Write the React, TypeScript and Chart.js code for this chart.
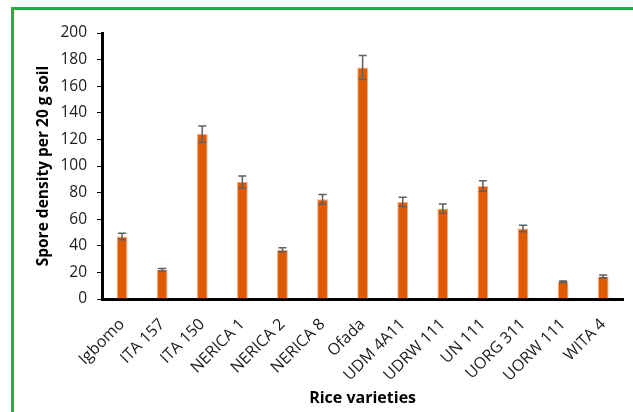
import React, { useEffect, useRef } from "react";
import { Chart, registerables } from "chart.js";

Chart.register(...registerables);

const categories = [
  "Igbomo", "ITA 157", "ITA 150", "NERICA 1", "NERICA 2", "NERICA 8", "Ofada",
  "UDM 4A11", "UDRW 111", "UN 111", "UORG 311", "UORW 111", "WITA 4",
];
const sporeDensity = [47, 22, 124, 88, 37, 75, 174, 73, 68, 85, 53, 13, 17];
const errorValues = [2.5, 1, 6, 4.5, 1.5, 3.5, 9, 3.5, 3.5, 4, 2.5, 0.5, 1];
const yTicks = [0, 20, 40, 60, 80, 100, 120, 140, 160, 180, 200];

const FONT = "'Open Sans', 'Noto Sans', sans-serif";

const errorBarPlugin = {
  id: "errorBars",
  afterDatasetsDraw(chart: any) {
    const meta = chart.getDatasetMeta(0);
    const yScale = chart.scales.y;
    const ctx = chart.ctx;
    ctx.save();
    ctx.strokeStyle = "#5f5f5f";
    ctx.lineWidth = 1.5;
    meta.data.forEach((bar: any, i: number) => {
      const v = sporeDensity[i];
      const e = errorValues[i];
      const x = bar.x;
      const yTop = yScale.getPixelForValue(v + e);
      const yBot = yScale.getPixelForValue(v - e);
      const half = 4;
      ctx.beginPath();
      ctx.moveTo(x, yTop);
      ctx.lineTo(x, yBot);
      ctx.moveTo(x - half, yTop);
      ctx.lineTo(x + half, yTop);
      ctx.moveTo(x - half, yBot);
      ctx.lineTo(x + half, yBot);
      ctx.stroke();
    });
    ctx.restore();
  },
};

export default function App() {
  const canvasRef = useRef<HTMLCanvasElement | null>(null);

  useEffect(() => {
    if (!canvasRef.current) return;
    const chart = new Chart(canvasRef.current, {
      type: "bar",
      data: {
        labels: categories,
        datasets: [
          {
            data: sporeDensity,
            backgroundColor: "#e05a00",
            borderColor: "rgba(245,170,120,0.9)",
            borderWidth: 1,
            barPercentage: 0.27,
            categoryPercentage: 1,
          },
        ],
      },
      options: {
        animation: false,
        responsive: false,
        maintainAspectRatio: false,
        layout: { padding: { top: 33, left: 0, right: 6, bottom: 0 } },
        plugins: { legend: { display: false }, tooltip: { enabled: false } },
        scales: {
          x: {
            grid: { display: false, drawTicks: false },
            border: { display: true, color: "#000", width: 3 },
            ticks: {
              maxRotation: 45,
              minRotation: 45,
              autoSkip: false,
              padding: 16,
              color: "#1a1a1a",
              font: { family: FONT, size: 16 },
            },
            title: {
              display: true,
              text: "Rice varieties",
              color: "#000",
              font: { family: FONT, size: 16, weight: "bold" },
              padding: { top: 0, bottom: 4 },
            },
            afterFit(scale: any) {
              scale.height = 113;
            },
          },
          y: {
            min: 0,
            max: 200,
            afterBuildTicks(scale: any) {
              scale.ticks = yTicks.map((v) => ({ value: v }));
            },
            grid: {
              drawOnChartArea: false,
              drawTicks: true,
              tickLength: 5,
              color: "#000",
              lineWidth: 1,
            },
            border: { display: true, color: "#000", width: 3 },
            ticks: {
              padding: 10,
              color: "#1a1a1a",
              font: { family: FONT, size: 15.5 },
            },
            title: {
              display: true,
              text: "Spore density per 20 g soil",
              color: "#000",
              font: { family: FONT, size: 15.5, weight: "bold" },
              padding: { top: 34, bottom: 0 },
            },
            afterFit(scale: any) {
              scale.width = 102;
            },
          },
        },
      },
      plugins: [errorBarPlugin],
    });
    return () => chart.destroy();
  }, []);

  return (
    <div
      style={{
        position: "fixed",
        left: 0,
        top: 0,
        width: 633,
        height: 412,
        overflow: "hidden",
        background: "#fff",
      }}
    >
      <div
        style={{
          position: "absolute",
          left: 11,
          top: 7,
          width: 700,
          height: 500,
          border: "3px solid #19b34a",
          boxSizing: "border-box",
        }}
      />
      <canvas
        ref={canvasRef}
        width={633}
        height={412}
        style={{ position: "absolute", left: 0, top: 0, width: 633, height: 412 }}
      />
    </div>
  );
}
